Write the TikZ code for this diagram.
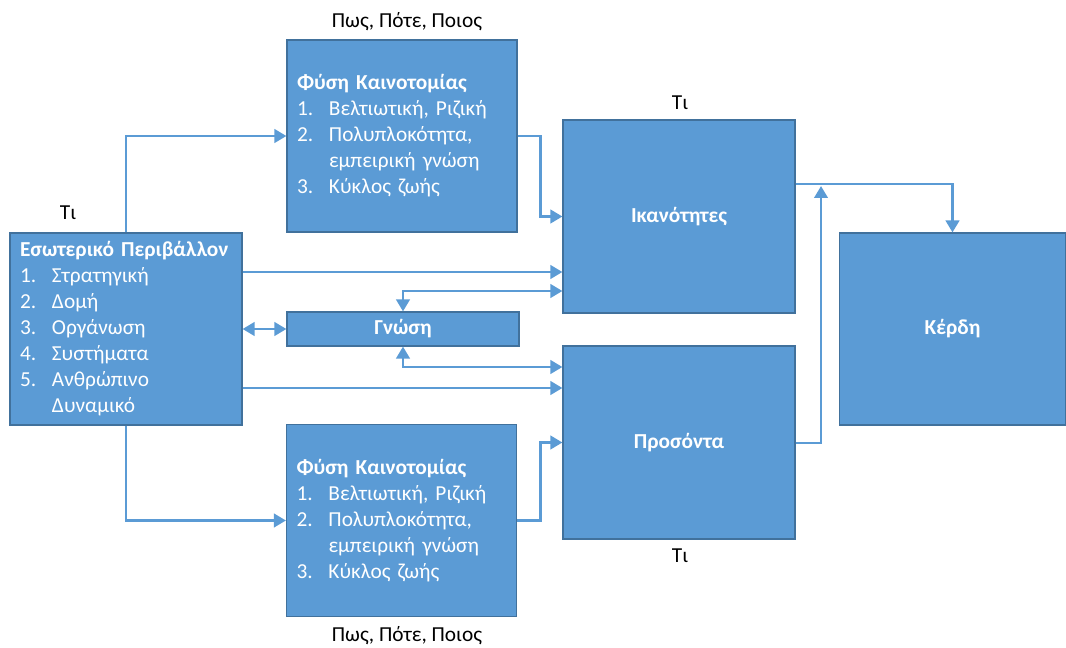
\documentclass[tikz,border=0pt]{standalone}
\usepackage{fontspec}
\setmainfont{Carlito}
\usetikzlibrary{arrows.meta}
\definecolor{boxblue}{HTML}{5B9BD5}
\definecolor{boxedge}{HTML}{41719C}
\newcommand{\itm}[2]{\makebox[24pt][l]{#1}#2}
\newcommand{\cont}[1]{\hspace*{24pt}#1}

\begin{document}
\begin{tikzpicture}[x=0.75pt,y=-0.75pt,->,>={Triangle[length=9pt,width=10pt]},
                    box/.style={draw=boxedge,fill=boxblue,text=white,line width=0.8pt,
                                inner xsep=7.5pt,inner ysep=0pt,font=\fontsize{16}{19.5}\selectfont},
                    listbox/.style={box,align=left,text width=#1,minimum height=144pt},
                    titlebox/.style={box,align=center,minimum width=174pt,
                                     font=\fontsize{16}{19.5}\selectfont\bfseries},
                    conn/.style={draw=boxblue,line width=2.2pt},
                    lbl/.style={font=\fontsize{16}{19.5}\selectfont}]
  %\tikzstyle{every node}=[draw=red]
  \useasboundingbox (0,0) rectangle (1066,648);

  \node[listbox=159pt]   (env)    at (126,329)   {\textbf{Εσωτερικό Περιβάλλον}\\
                                                  \itm{1.}{Στρατηγική}\\ \itm{2.}{Δομή}\\
                                                  \itm{3.}{Οργάνωση}\\ \itm{4.}{Συστήματα}\\
                                                  \itm{5.}{Ανθρώπινο}\\ \cont{Δυναμικό}};
  \node[listbox=157.5pt] (fysiA)  at (402,136)   {\textbf{Φύση Καινοτομίας}\\
                                                  \itm{1.}{Βελτιωτική, Ριζική}\\
                                                  \itm{2.}{Πολυπλοκότητα,}\\ \cont{εμπειρική γνώση}\\
                                                  \itm{3.}{Κύκλος ζωής}};
  \node[listbox=157.5pt] (fysiB)  at (401.5,520.5) {\textbf{Φύση Καινοτομίας}\\
                                                  \itm{1.}{Βελτιωτική, Ριζική}\\
                                                  \itm{2.}{Πολυπλοκότητα,}\\ \cont{εμπειρική γνώση}\\
                                                  \itm{3.}{Κύκλος ζωής}};
  \node[titlebox,minimum height=144.75pt] (ikan)  at (679,216.5) {Ικανότητες};
  \node[titlebox,minimum height=144.75pt] (pros)  at (679,442.5) {Προσόντα};
  \node[titlebox,minimum width=170pt,minimum height=144pt] (kerdi) at (952.5,329) {Κέρδη};
  \node[titlebox,minimum height=25.5pt] (gnosi) at (403,329) {Γνώση};

  \node[lbl] (ppA) at (407,22)  {Πως, Πότε, Ποιος};
  \node[lbl] (ppB) at (407,636) {Πως, Πότε, Ποιος};
  \node[lbl] (tiA) at (68,213)  {Τι};
  \node[lbl] (tiB) at (680,103) {Τι};
  \node[lbl] (tiC) at (680,556) {Τι};

  \coordinate (join) at (821,186);

  \path[conn] (env.north) |- (fysiA.west);
  \path[conn] (env.south) |- (fysiB.west);
  \path[conn] (fysiA.east) -- ++(23,0) |- (ikan.west);
  \path[conn] (fysiB.east) -- ++(23,0) |- (pros.west);
  \path[conn] (env.east |- 0,272) -- (ikan.west |- 0,272);
  \path[conn] (env.east |- 0,388) -- (pros.west |- 0,388);
  \path[conn,<->] (env.east) -- (gnosi.west);
  \path[conn,<->] (gnosi.north) |- (ikan.west |- 0,291);
  \path[conn,<->] (gnosi.south) |- (pros.west |- 0,367);
  \path[conn] (ikan.east |- 0,184) -| (kerdi.north);
  \path[conn] (pros.east |- 0,443) -| (join);
\end{tikzpicture}
\end{document}
